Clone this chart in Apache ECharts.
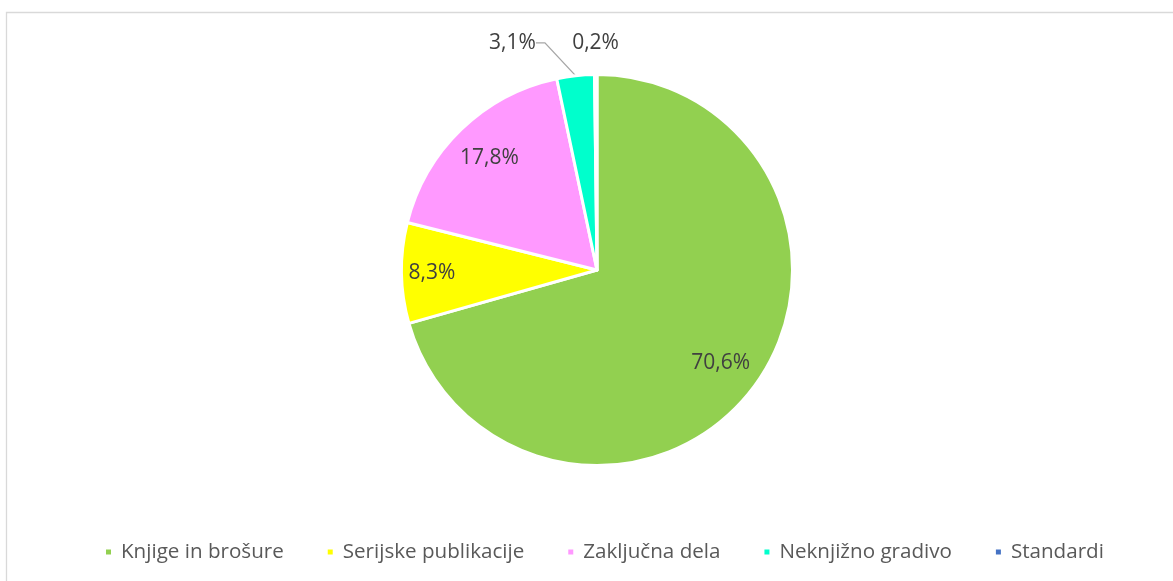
<!DOCTYPE html>
<html>
<head>
<meta charset="utf-8">
<script src="https://cdn.jsdelivr.net/npm/echarts@6/dist/echarts.min.js"></script>
<style>
  html, body { margin: 0; padding: 0; background: #fff; }
  #chart { width: 1173px; height: 581px; }
</style>
</head>
<body>
<div id="chart"></div>
<script>
// Share of holdings by material type (percent)
const categories = ['Knjige in brošure', 'Serijske publikacije', 'Zaključna dela', 'Neknjižno gradivo', 'Standardi'];
const shares = [70.6, 8.3, 17.8, 3.1, 0.2];
const colors = ['#92D050', '#FFFF00', '#FF99FF', '#00FFCC', '#4472C4'];

// where each slice's value label sits
const innerLabels = ['Knjige in brošure', 'Zaključna dela'];
const outerInsideLabels = ['Serijske publikacije'];
const leaderLabels = ['Neknjižno gradivo'];
const rimLabels = ['Standardi'];

const FONT = '"Open Sans", "Noto Sans", sans-serif';
const fmt = p => p.value.toFixed(1).replace('.', ',') + '%';
const labelStyle = { color: '#404040', fontSize: 21, fontFamily: FONT, formatter: fmt };

const center = [597, 270];
const R = 195.5;

const chart = echarts.init(document.getElementById('chart'), null, { renderer: 'canvas' });

const slices = categories.map((name, i) => {
  const item = { name, value: shares[i], itemStyle: { color: colors[i] } };
  if (leaderLabels.includes(name)) {
    item.label = Object.assign({ show: true, position: 'outside', distanceToLabelLine: 5 }, labelStyle);
    item.labelLine = { show: true, length: 33, length2: 9, lineStyle: { color: '#A6A6A6', width: 1.3 } };
  }
  return item;
});

// transparent rings that only carry value labels at the wanted radius
const ghostSeries = (radius, showList) => ({
  type: 'pie',
  center,
  radius,
  startAngle: 90,
  clockwise: true,
  silent: true,
  avoidLabelOverlap: false,
  itemStyle: { color: 'rgba(0,0,0,0)', borderWidth: 0 },
  emphasis: { disabled: true },
  labelLine: { show: false },
  label: Object.assign({ position: 'inside' }, labelStyle),
  data: categories.map((name, i) => ({ name, value: shares[i], label: { show: showList.includes(name) } }))
});

chart.setOption({
  animation: false,
  backgroundColor: '#ffffff',
  graphic: [{
    type: 'rect',
    silent: true,
    shape: { x: 6.5, y: 12.5, width: 1200, height: 620 },
    style: { fill: 'none', stroke: '#D9D9D9', lineWidth: 1.3 }
  }],
  legend: {
    data: categories,
    left: 99,
    top: 535,
    icon: 'rect',
    itemWidth: 7,
    itemHeight: 7,
    itemGap: 42,
    selectedMode: false,
    textStyle: { color: '#595959', fontSize: 20.6, fontFamily: FONT, lineHeight: 24, padding: [0, 0, 0, 4] }
  },
  series: [
    {
      type: 'pie',
      center,
      radius: [0, R],
      startAngle: 90,
      clockwise: true,
      avoidLabelOverlap: false,
      itemStyle: { borderColor: '#ffffff', borderWidth: 3 },
      emphasis: { disabled: true },
      label: { show: false },
      labelLine: { show: false },
      // shift the leader label left; the guide line is then redrawn from the slice rim
      labelLayout: p => ({ x: p.labelRect.x + p.labelRect.width - 22, y: p.labelRect.y + p.labelRect.height / 2 }),
      data: slices
    },
    ghostSeries([110, 194], innerLabels),
    ghostSeries([130, 194], outerInsideLabels),
    ghostSeries([212, 236], rimLabels)
  ]
});
</script>
</body>
</html>
